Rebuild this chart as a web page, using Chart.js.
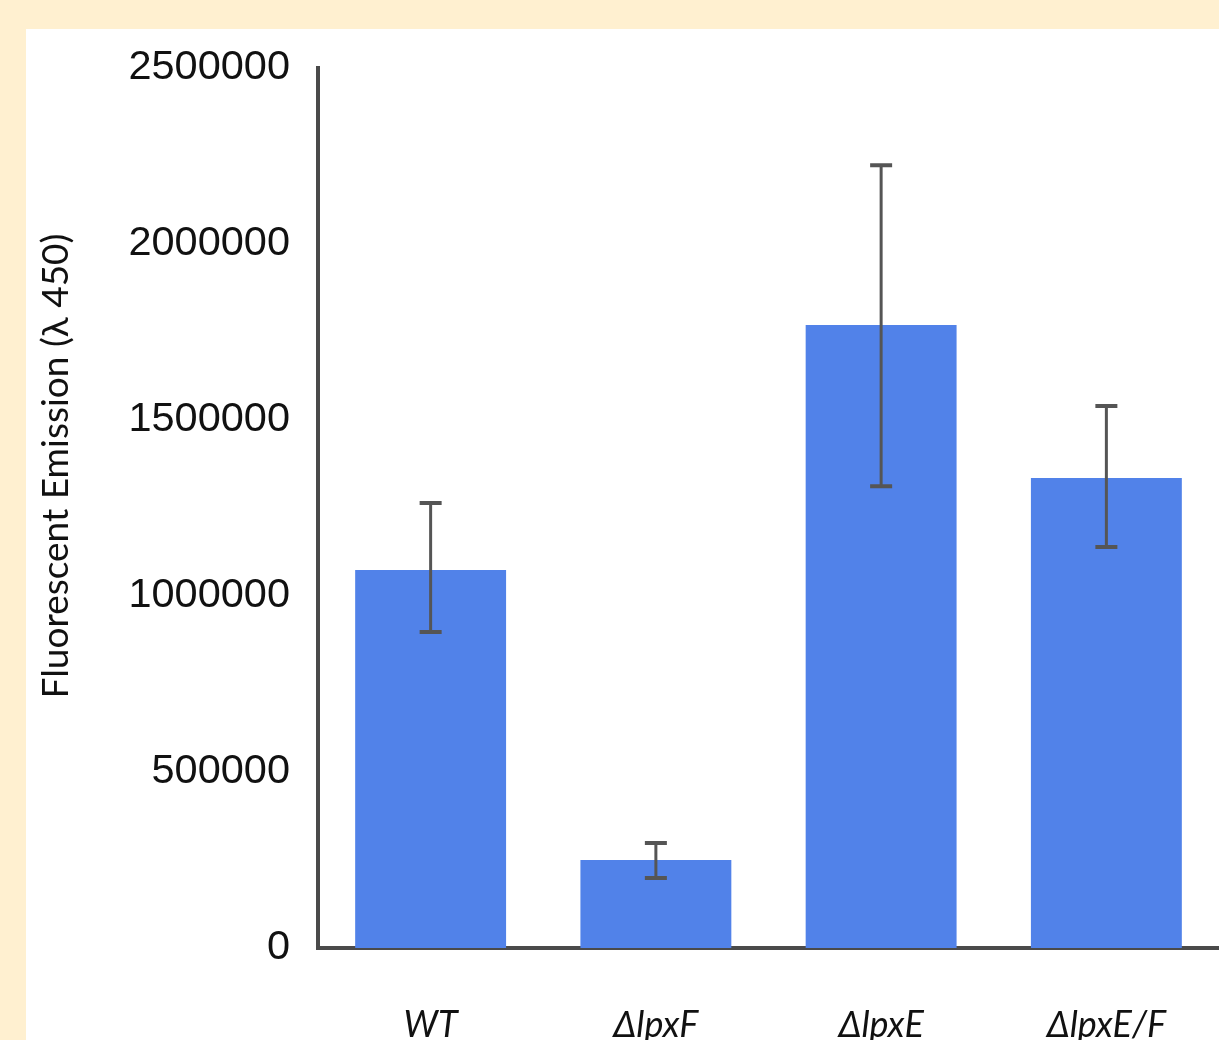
<!DOCTYPE html>
<html>
<head>
<meta charset="utf-8">
<script src="https://cdn.jsdelivr.net/npm/chart.js@4.4.0/dist/chart.umd.min.js"></script>
<style>
  html, body { margin: 0; padding: 0; background: #fff0d0; overflow: hidden; }
  #panel { position: absolute; left: 26px; top: 29px; width: 1193px; height: 1011px; background: #fff; }
</style>
</head>
<body>
<div id="panel"><canvas id="emissionChart" width="1193" height="1011"></canvas></div>
<script>
// data
const strains = ['WT', 'ΔlpxF', 'ΔlpxE', 'ΔlpxE/F'];
const meanEmission = [1074000, 250000, 1770000, 1335000];
const errLow = [898000, 199000, 1312000, 1139000];
const errHigh = [1264000, 298000, 2224000, 1540000];
const yTicks = [0, 500000, 1000000, 1500000, 2000000, 2500000];
const yTitle = 'Fluorescent Emission (λ 450)';

// error bars drawn through the y scale
const errorBars = {
  id: 'errorBars',
  afterDatasetsDraw(chart) {
    const ctx = chart.ctx;
    const y = chart.scales.y;
    const meta = chart.getDatasetMeta(0);
    ctx.save();
    ctx.strokeStyle = '#555555';
    meta.data.forEach((bar, i) => {
      const x = bar.x;
      const top = y.getPixelForValue(errHigh[i]);
      const bot = y.getPixelForValue(errLow[i]);
      ctx.lineWidth = 3;
      ctx.beginPath();
      ctx.moveTo(x, top);
      ctx.lineTo(x, bot);
      ctx.stroke();
      ctx.lineWidth = 4;
      ctx.beginPath();
      ctx.moveTo(x - 11, top);
      ctx.lineTo(x + 11, top);
      ctx.moveTo(x - 11, bot);
      ctx.lineTo(x + 11, bot);
      ctx.stroke();
    });
    ctx.restore();
  }
};

// rotated y axis title, placed like the original
const sideTitle = {
  id: 'sideTitle',
  afterDraw(chart) {
    const ctx = chart.ctx;
    ctx.save();
    ctx.translate(30, 437);
    ctx.rotate(-Math.PI / 2);
    ctx.font = '37px Lato';
    ctx.fillStyle = '#111';
    ctx.textAlign = 'center';
    ctx.textBaseline = 'middle';
    ctx.fillText(yTitle, 0, 0);
    ctx.restore();
  }
};

const ctx = document.getElementById('emissionChart').getContext('2d');
new Chart(ctx, {
  type: 'bar',
  data: {
    labels: strains,
    datasets: [{
      data: meanEmission,
      backgroundColor: '#5182e9',
      borderWidth: 0,
      barPercentage: 0.67,
      categoryPercentage: 1.0
    }]
  },
  options: {
    responsive: false,
    animation: false,
    layout: { padding: { top: 39, right: 0, left: 0, bottom: 0 } },
    plugins: { legend: { display: false }, tooltip: { enabled: false } },
    scales: {
      x: {
        z: 1,
        grid: { display: false, drawTicks: false },
        border: { color: '#4a4a4a', width: 4 },
        ticks: {
          color: '#111',
          font: { family: 'Lato', style: 'italic', size: 36 },
          padding: 56
        },
        afterFit(scale) { scale.height = 92; scale.paddingLeft = 0; scale.paddingRight = 0; }
      },
      y: {
        z: 1,
        min: 0,
        max: 2500000,
        afterBuildTicks(scale) { scale.ticks = yTicks.map(v => ({ value: v })); },
        grid: { display: false, drawTicks: false },
        border: { color: '#4a4a4a', width: 4 },
        ticks: {
          color: '#111',
          font: { family: 'Liberation Sans', size: 41.5 },
          padding: 28,
          callback: v => String(v)
        },
        afterFit(scale) { scale.width = 292; scale.paddingTop = 0; scale.paddingBottom = 0; }
      }
    }
  },
  plugins: [errorBars, sideTitle]
});
</script>
</body>
</html>
